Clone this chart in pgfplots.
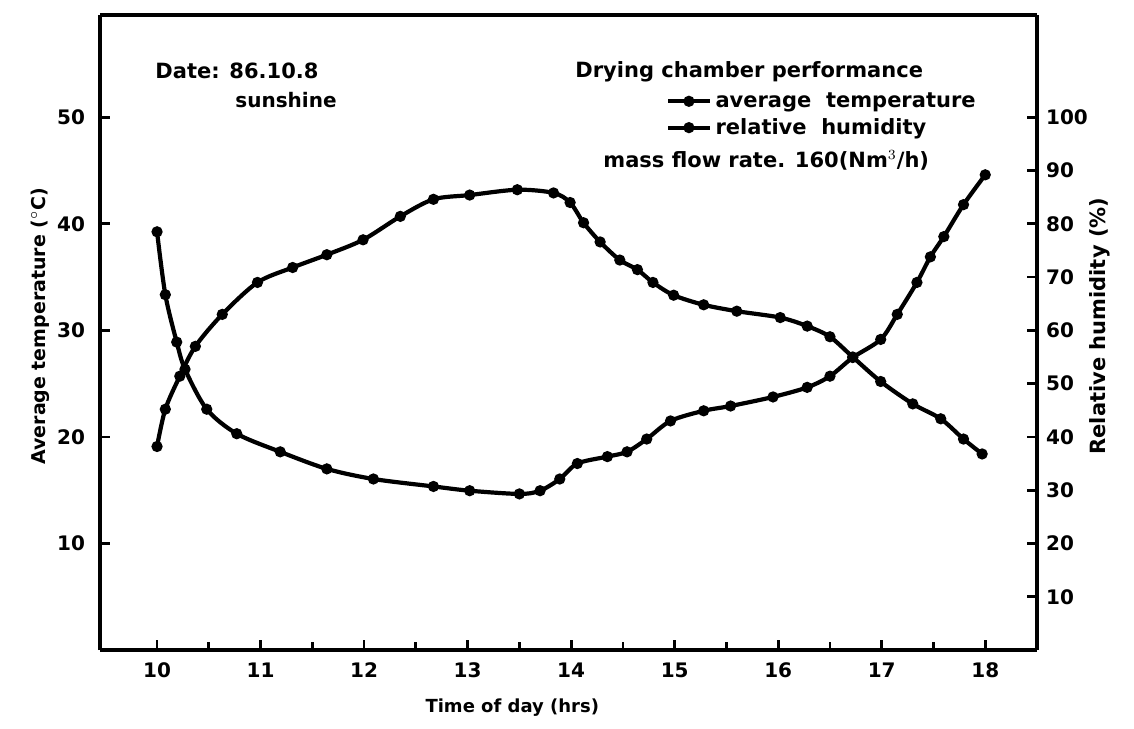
\documentclass[border=0pt]{standalone}
\usepackage{pgfplots}
\pgfplotsset{compat=1.18}
\usepackage{fontspec}
\setmainfont{DejaVu Sans}
\begin{document}
\begin{tikzpicture}
\pgfplotsset{
  common/.style={
    scale only axis, width=468.5pt, height=317.5pt,
    xmin=9.449, xmax=18.5,
    axis line style={line width=1.9pt},
    tick style={line width=1.4pt, black},
    tick align=inside,
    major tick length=5pt, minor tick length=4pt,
    /pgf/number format/assume math mode=true,
    tick label style={font=\fontsize{10}{12}\selectfont\bfseries},
    clip=false,
  },
  curve/.style={black, line width=2.1pt, smooth, mark=*, mark size=1.7pt, mark options={solid, fill=black}},
}
\begin{axis}[common, name=ax,
  ymin=0, ymax=59.6,
  axis y line*=left, axis x line*=box,
  xtick={10,11,...,18},
  minor xtick={10.5,11.5,...,17.5},
  x axis line style={-},
  xtick pos=bottom,
  ytick={10,20,30,40,50},
  yticklabel style={xshift=-4pt},
  xticklabel style={yshift=-3pt},
  xlabel={Time of day (hrs)},
  xlabel style={font=\fontsize{9}{11}\selectfont\bfseries, at={(axis description cs:0.44,0)}, anchor=center, yshift=-29pt},
  ylabel={Average temperature ($^{\circ}$C)},
  ylabel style={font=\fontsize{9.5}{11}\selectfont\bfseries, at={(axis description cs:-0.064,0.51)}, anchor=center},
  legend style={draw=none, fill=none, at={(0.604,0.885)}, anchor=north west, inner sep=0pt,
    font=\fontsize{10.5}{12.5}\selectfont\bfseries, row sep=0pt,
    /tikz/every even column/.append style={column sep=1pt}},
  legend image code/.code={\draw[mark repeat=2,mark phase=2,#1] plot coordinates {(0cm,0cm) (0.36cm,0cm) (0.72cm,0cm)};},
  legend cell align=left,
]
\addplot[curve] coordinates {
(10.00,19.1) (10.08,22.6) (10.22,25.7) (10.37,28.5) (10.63,31.5) (10.97,34.5)
(11.31,35.9) (11.64,37.1) (11.99,38.5) (12.35,40.7) (12.67,42.3) (13.02,42.7)
(13.48,43.2) (13.83,42.9) (13.99,42.0) (14.12,40.1) (14.28,38.3) (14.47,36.6)
(14.64,35.7) (14.79,34.5) (14.99,33.3) (15.28,32.4) (15.60,31.8) (16.02,31.2)
(16.28,30.4) (16.50,29.4) (16.72,27.5) (16.99,25.2) (17.30,23.1) (17.57,21.7)
(17.79,19.8) (17.97,18.4)
};
\addlegendentry{average\ \ temperature}
\addlegendimage{curve}
\addlegendentry{relative\ \ humidity}
\end{axis}
\begin{axis}[common,
  ymin=0, ymax=119.2,
  axis y line*=right, axis x line=none,
  ytick={10,20,...,100},
  yticklabel style={xshift=1pt},
  ylabel={Relative humidity (\%)},
  ylabel style={font=\fontsize{10.5}{12}\selectfont\bfseries, at={(axis description cs:1.067,0.51)}, anchor=center, rotate=0},
]
\addplot[curve] coordinates {
(10.00,78.5) (10.08,66.7) (10.19,57.8) (10.27,52.7) (10.48,45.2) (10.77,40.6)
(11.19,37.2) (11.64,34.0) (12.09,32.1) (12.67,30.7) (13.02,29.9) (13.50,29.3)
(13.70,29.9) (13.89,32.1) (14.06,35.0) (14.35,36.3) (14.54,37.2) (14.73,39.6)
(14.96,43.0) (15.28,44.9) (15.54,45.8) (15.95,47.5) (16.28,49.3) (16.50,51.4)
(16.72,54.9) (16.99,58.3) (17.15,63.0) (17.34,69.0) (17.47,73.8) (17.60,77.6)
(17.79,83.6) (18.00,89.2)
};
\end{axis}
\node[anchor=west, inner sep=0pt, font=\fontsize{10.5}{12.5}\selectfont\bfseries] at ([xshift=27.5pt,yshift=-28pt]ax.north west) {Date: 86.10.8};
\node[anchor=west, inner sep=0pt, font=\fontsize{10}{12}\selectfont\bfseries] at ([xshift=67.5pt,yshift=-42.5pt]ax.north west) {sunshine};
\node[anchor=west, inner sep=0pt, font=\fontsize{10.5}{12.5}\selectfont\bfseries] at ([xshift=237.5pt,yshift=-28.5pt]ax.north west) {Drying chamber performance};
\node[anchor=west, inner sep=0pt, font=\fontsize{10.5}{12.5}\selectfont\bfseries] at ([xshift=251.5pt,yshift=-72.5pt]ax.north west) {mass flow rate. 160(Nm$^3$/h)};
\pgfresetboundingbox
\path[use as bounding box] ([xshift=-50pt,yshift=-39pt]ax.south west) rectangle ([xshift=48.5pt,yshift=7.5pt]ax.north east);
\end{tikzpicture}
\end{document}
